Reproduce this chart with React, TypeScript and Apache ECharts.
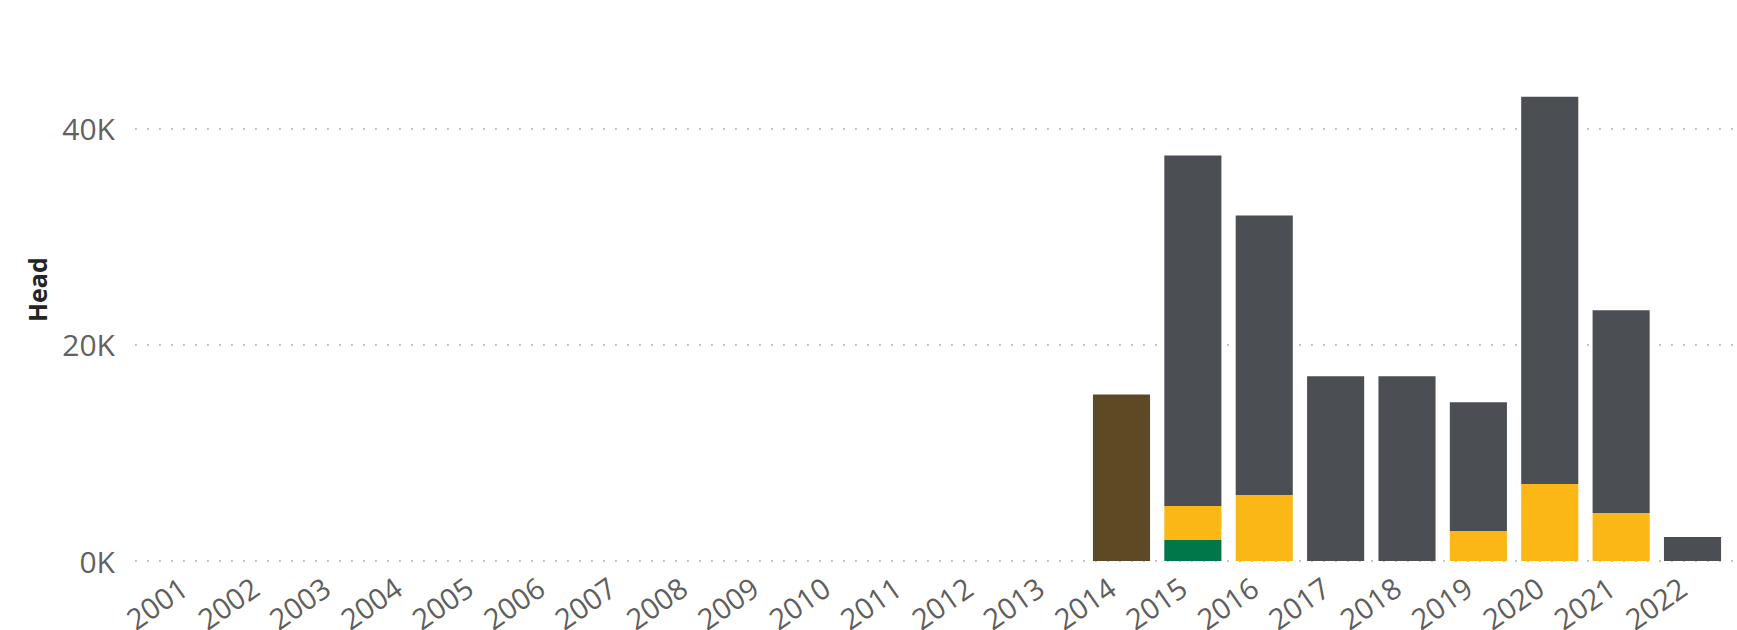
import React, { useEffect, useRef } from "react";
import * as echarts from "echarts";

const years = [
  "2001", "2002", "2003", "2004", "2005", "2006", "2007", "2008", "2009", "2010", "2011",
  "2012", "2013", "2014", "2015", "2016", "2017", "2018", "2019", "2020", "2021", "2022",
];
// stacked segments, bottom to top
const greenValues = [null, null, null, null, null, null, null, null, null, null, null, null, null, null, 1940, null, null, null, null, null, null, null];
const yellowValues = [null, null, null, null, null, null, null, null, null, null, null, null, null, null, 3140, 6090, null, null, 2770, 7110, 4430, null];
const greyValues = [null, null, null, null, null, null, null, null, null, null, null, null, null, null, 32400, 25840, 17070, 17070, 11910, 35810, 18740, 2215];
const brownValues = [null, null, null, null, null, null, null, null, null, null, null, null, null, 15400, null, null, null, null, null, null, null, null];
const yTicks = [0, 20000, 40000];

const FONT = "'Segoe UI', 'Open Sans', sans-serif";

export default function App() {
  const ref = useRef<HTMLDivElement>(null);
  useEffect(() => {
    if (!ref.current) return;
    const chart = echarts.init(ref.current, null, { renderer: "svg" });
    const bottom = 630 - 561;
    const gridTop40 = 128.3;
    const barMax = 45000;
    const barTop = 561 - (barMax / yTicks[2]) * (561 - gridTop40);
    const mkSeries = (name: string, data: (number | null)[], color: string) => ({
      name,
      type: "bar",
      stack: "total",
      xAxisIndex: 1,
      yAxisIndex: 1,
      barCategoryGap: "20%",
      data,
      itemStyle: { color },
      emphasis: { disabled: true },
    });
    chart.setOption({
      animation: false,
      textStyle: { fontFamily: FONT },
      grid: [
        { left: 135, right: 3, top: gridTop40, bottom, containLabel: false, outerBoundsMode: "none" },
        { left: 157.9, right: 8.8, top: barTop, bottom, containLabel: false, outerBoundsMode: "none" },
      ],
      xAxis: [
        { type: "value", gridIndex: 0, show: false, min: 0, max: 1 },
        {
          type: "category",
          gridIndex: 1,
          data: years,
          axisLine: { show: false },
          axisTick: { show: false },
          axisLabel: {
            interval: 0,
            rotate: 35,
            fontSize: 29,
            color: "#605E5C",
            fontFamily: FONT,
            margin: 16,
            padding: [0, 12, 0, 0],
          },
        },
      ],
      yAxis: [
        {
          type: "value",
          gridIndex: 0,
          min: yTicks[0],
          max: yTicks[2],
          interval: 20000,
          axisLine: { show: false },
          axisTick: { show: false },
          axisLabel: {
            margin: 20,
            fontSize: 30,
            color: "#616161",
            fontFamily: FONT,
            formatter: (v: number) => `${v / 1000}K`,
          },
          splitLine: {
            show: true,
            lineStyle: { color: "#BDBDBD", width: 1.8, type: [1.8, 10.2] },
          },
          name: "Head",
          nameLocation: "middle",
          nameRotate: 90,
          nameGap: 86,
          nameTextStyle: {
            fontSize: 25,
            fontWeight: "bold",
            color: "#252423",
            fontFamily: FONT,
            padding: [0, 0, 0, 110],
          },
        },
        {
          type: "value",
          gridIndex: 1,
          min: 0,
          max: barMax,
          show: false,
          splitLine: { show: false },
        },
      ],
      series: [
        mkSeries("Green", greenValues, "#00774A"),
        mkSeries("Yellow", yellowValues, "#FAB716"),
        mkSeries("Grey", greyValues, "#4B4E52"),
        mkSeries("Brown", brownValues, "#5D4A24"),
      ],
    });
    return () => chart.dispose();
  }, []);
  return (
    <div
      ref={ref}
      style={{ position: "fixed", left: 0, top: 0, width: 1737, height: 630, background: "#fff" }}
    />
  );
}
